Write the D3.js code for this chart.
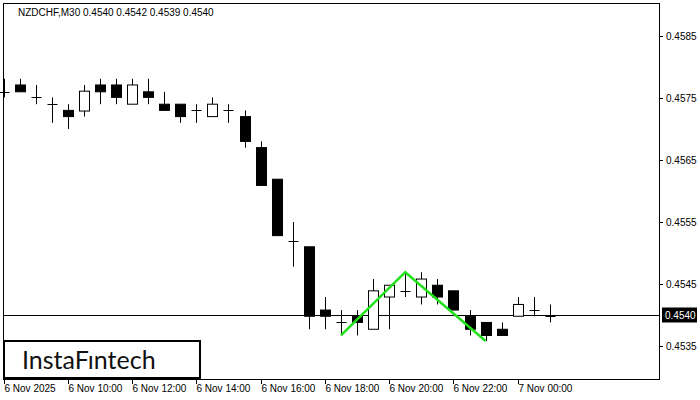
<!DOCTYPE html><html><head><meta charset="utf-8"><script src="https://cdn.jsdelivr.net/npm/d3@7"></script>
<style>body{margin:0;background:#fff}</style></head><body><svg id="c" width="700" height="400"></svg>
<script>
const opens=[0.45760,0.45771,0.45751,0.45740,0.45730,0.45729,0.45771,0.45771,0.45740,0.45760,0.45740,0.45740,0.45730,0.45720,0.45730,0.45720,0.45670,0.45619,0.45519,0.45510,0.45408,0.45388,0.45398,0.45377,0.45429,0.45439,0.45429,0.45448,0.45439,0.45398,0.45388,0.45377,0.45398,0.45408,0.45398];
const highs=[0.45781,0.45781,0.45771,0.45751,0.45740,0.45771,0.45781,0.45781,0.45781,0.45781,0.45760,0.45740,0.45740,0.45751,0.45740,0.45730,0.45680,0.45619,0.45550,0.45510,0.45429,0.45408,0.45408,0.45458,0.45448,0.45469,0.45469,0.45458,0.45439,0.45408,0.45388,0.45388,0.45429,0.45429,0.45417];
const lows=[0.45751,0.45760,0.45740,0.45710,0.45700,0.45720,0.45740,0.45740,0.45740,0.45740,0.45730,0.45710,0.45710,0.45720,0.45710,0.45670,0.45609,0.45528,0.45478,0.45377,0.45377,0.45367,0.45367,0.45377,0.45377,0.45429,0.45417,0.45417,0.45408,0.45367,0.45358,0.45367,0.45398,0.45398,0.45388];
const closes=[0.45760,0.45760,0.45751,0.45740,0.45720,0.45761,0.45760,0.45751,0.45771,0.45751,0.45730,0.45720,0.45730,0.45740,0.45730,0.45680,0.45609,0.45528,0.45519,0.45398,0.45398,0.45388,0.45388,0.45439,0.45448,0.45439,0.45458,0.45429,0.45408,0.45377,0.45367,0.45367,0.45417,0.45408,0.45398];
const patternIdx=[21,25,30];
const patternVals=[0.45367,0.45469,0.45358];
const priceTicks=[0.4585,0.4575,0.4565,0.4555,0.4545,0.4535];
const timeLabels=["6 Nov 2025","6 Nov 10:00","6 Nov 12:00","6 Nov 14:00","6 Nov 16:00","6 Nov 18:00","6 Nov 20:00","6 Nov 22:00","7 Nov 00:00"];
const timeIdx=[0,4,8,12,16,20,24,28,32];
const current=0.4540;
const title="NZDCHF,M30  0.4540 0.4542 0.4539 0.4540";

const svg=d3.select("#c");
const x=d3.scaleLinear().domain([0,1]).range([3.5,19.57]);
const y=d3.scaleLinear().domain([0.4585,0.4535]).range([36,346]);
const F="Liberation Sans, Arial, sans-serif";
svg.append("rect").attr("x",3.5).attr("y",3.5).attr("width",656).attr("height",376).attr("fill","none").attr("stroke","#000");
priceTicks.forEach(p=>{
  svg.append("line").attr("x1",659.5).attr("x2",663).attr("y1",Math.round(y(p))+.5).attr("y2",Math.round(y(p))+.5).attr("stroke","#000");
  svg.append("text").attr("x",666).attr("y",y(p)+4).attr("font-family",F).attr("font-size",10).text(p.toFixed(4));
});
timeIdx.forEach((k,i)=>{
  const xx=Math.round(x(k))+.5;
  svg.append("line").attr("x1",xx).attr("x2",xx).attr("y1",379.5).attr("y2",384).attr("stroke","#000");
  svg.append("text").attr("x",xx).attr("y",392).attr("font-family",F).attr("font-size",10).text(timeLabels[i]);
});
svg.append("line").attr("x1",3.5).attr("x2",659.5).attr("y1",Math.round(y(current))+.5).attr("y2",Math.round(y(current))+.5).attr("stroke","#000");
svg.append("rect").attr("x",662).attr("y",y(current)-7.5).attr("width",35).attr("height",15).attr("fill","#000");
svg.append("text").attr("x",665).attr("y",y(current)+4).attr("font-family",F).attr("font-size",10).attr("fill","#fff").text(current.toFixed(4));
const g=svg.append("g");
opens.forEach((o,i)=>{
  const cx=Math.round(x(i))+.5, c=closes[i];
  g.append("line").attr("x1",cx).attr("x2",cx).attr("y1",y(highs[i])).attr("y2",y(lows[i])).attr("stroke","#000").attr("stroke-width",1);
  const top=y(Math.max(o,c)), bot=y(Math.min(o,c));
  if(bot-top<1.5){
    g.append("line").attr("x1",cx-5).attr("x2",cx+5).attr("y1",Math.round(top)+.5).attr("y2",Math.round(top)+.5).attr("stroke","#000");
  } else {
    g.append("rect").attr("x",cx-5).attr("y",top).attr("width",10).attr("height",bot-top)
      .attr("fill",c>o?"#fff":"#000").attr("stroke","#000");
  }
});
svg.append("path").attr("d",d3.line().x(d=>x(d[0])).y(d=>y(d[1]))(patternIdx.map((k,i)=>[k,patternVals[i]])))
  .attr("fill","none").attr("stroke","#22e01c").attr("stroke-width",2.5);
svg.append("text").attr("x",18).attr("y",16).attr("font-family",F).attr("font-size",10).text(title);
svg.append("rect").attr("x",4).attr("y",341).attr("width",196).attr("height",37).attr("fill","#fff").attr("stroke","#000").attr("stroke-width",2);
svg.append("text").attr("x",22).attr("y",369).attr("font-family","Lato, sans-serif").attr("font-size",25).attr("fill","#111").text("InstaFıntech");
</script></body></html>
